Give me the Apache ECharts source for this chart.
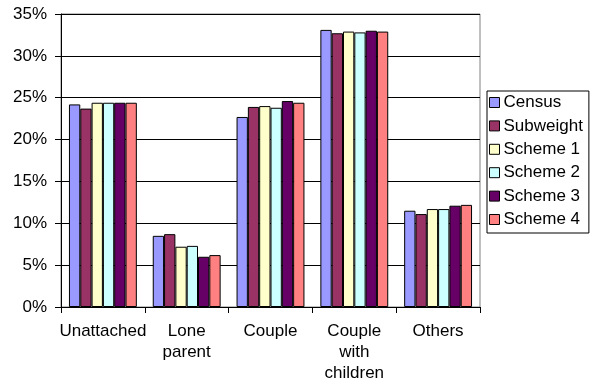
<!DOCTYPE html>
<html>
<head>
<meta charset="utf-8">
<script src="https://cdn.jsdelivr.net/npm/echarts@6/dist/echarts.min.js"></script>
<style>
  html, body { margin: 0; padding: 0; background: #fff; }
  #chart { width: 595px; height: 385px; }
</style>
</head>
<body>
<div id="chart"></div>
<script>
// Household types on the category axis
const categories = ['Unattached', 'Lone\nparent', 'Couple', 'Couple\nwith\nchildren', 'Others'];

// Share of households (%) per estimate
const census    = [24.2, 8.5, 22.7, 33.1, 11.5];
const subweight = [23.7, 8.7, 23.9, 32.7, 11.1];
const scheme1   = [24.4, 7.2, 24.0, 32.9, 11.7];
const scheme2   = [24.4, 7.3, 23.8, 32.8, 11.7];
const scheme3   = [24.4, 6.0, 24.6, 33.0, 12.1];
const scheme4   = [24.4, 6.2, 24.4, 32.9, 12.2];

const seriesNames = ['Census', 'Subweight', 'Scheme 1', 'Scheme 2', 'Scheme 3', 'Scheme 4'];
const seriesData = [census, subweight, scheme1, scheme2, scheme3, scheme4];
const seriesColors = ['#9999FF', '#993366', '#FFFFCC', '#CCFFFF', '#660066', '#FF8080'];

const FONT = 'Liberation Sans, Arial, sans-serif';

const chart = echarts.init(document.getElementById('chart'), null, { renderer: 'canvas' });

chart.setOption({
  animation: false,
  backgroundColor: '#ffffff',
  textStyle: { fontFamily: FONT, color: '#000' },
  grid: {
    left: 61, right: 115, top: 14, bottom: 78,
    show: true, borderColor: '#808080', borderWidth: 1
  },
  legend: {
    orient: 'vertical',
    left: 487, top: 91,
    padding: [3, 6, 5, 2],
    itemGap: 6.4,
    itemWidth: 10, itemHeight: 10,
    borderColor: '#000', borderWidth: 1,
    backgroundColor: '#fff',
    icon: 'rect',
    itemStyle: { borderColor: '#000', borderWidth: 1 },
    textStyle: { fontFamily: FONT, fontSize: 17, color: '#000', lineHeight: 17, padding: [0, 0, 0, -1] },
    data: seriesNames
  },
  xAxis: {
    type: 'category',
    data: categories,
    axisLine: { lineStyle: { color: '#000', width: 1 } },
    axisTick: { show: true, length: 6, interval: 0, lineStyle: { color: '#000' } },
    axisLabel: {
      interval: 0, margin: 14, fontFamily: FONT, fontSize: 17,
      color: '#000', lineHeight: 21, align: 'center'
    },
    splitLine: { show: false }
  },
  yAxis: {
    type: 'value',
    min: 0, max: 35, interval: 5,
    axisLine: { show: true, lineStyle: { color: '#000', width: 1 } },
    axisTick: { show: true, length: 6, lineStyle: { color: '#000' } },
    axisLabel: { formatter: '{value}%', margin: 14, fontFamily: FONT, fontSize: 17, color: '#000' },
    splitLine: { show: true, lineStyle: { color: '#000', width: 1 } }
  },
  series: seriesNames.map((name, i) => ({
    name: name,
    type: 'bar',
    data: seriesData[i],
    barGap: '0%',
    barCategoryGap: '19%',
    itemStyle: { color: seriesColors[i], borderColor: '#000', borderWidth: 1 }
  }))
});
</script>
</body>
</html>
